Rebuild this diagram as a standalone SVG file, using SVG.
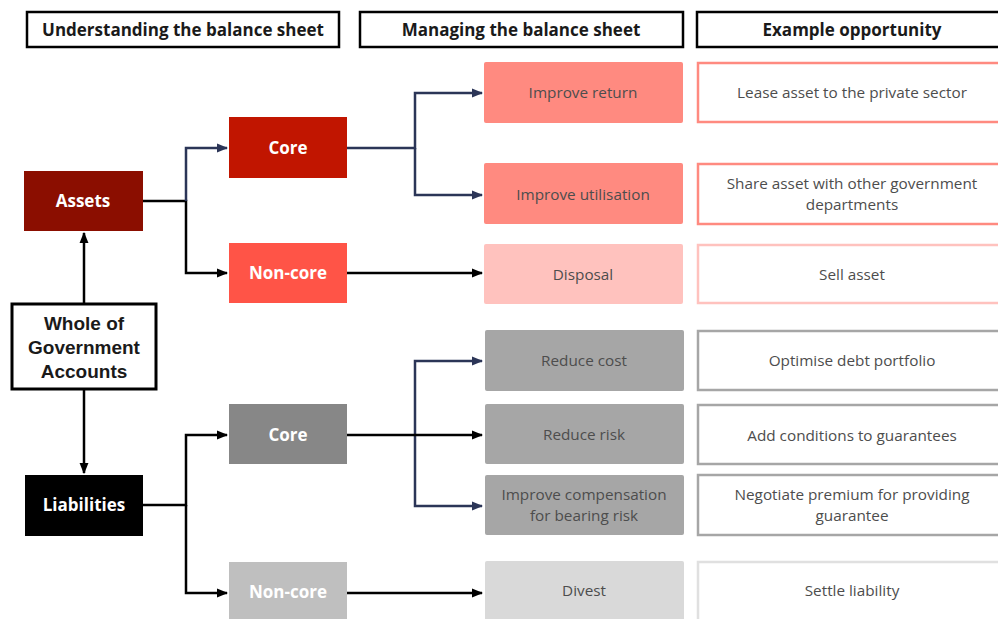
<svg xmlns="http://www.w3.org/2000/svg" width="998" height="619" viewBox="0 0 998 619">
<defs>
<marker id="ab" viewBox="0 0 10 10" refX="9" refY="5" markerWidth="4.5" markerHeight="4.5" orient="auto" markerUnits="strokeWidth"><path d="M0,1 L10,5 L0,9 z" fill="#000"/></marker>
<marker id="an" viewBox="0 0 10 10" refX="9" refY="5" markerWidth="4.5" markerHeight="4.5" orient="auto" markerUnits="strokeWidth"><path d="M0,1 L10,5 L0,9 z" fill="#2b3557"/></marker>
<style>
.hdr{fill:#fff;stroke:#000;stroke-width:2.5}
.ht{font-family:"Open Sans","Liberation Sans",sans-serif;font-weight:bold;font-size:17px;fill:#1a1a1a;text-anchor:middle}
.lt{font-family:"Open Sans","Liberation Sans",sans-serif;font-weight:bold;font-size:17px;fill:#fff;text-anchor:middle}
.bt{font-family:"Open Sans","Liberation Sans",sans-serif;font-size:15.3px;fill:#4d4d4d;text-anchor:middle}
.wt{font-family:"Liberation Sans",Arial,sans-serif;font-weight:bold;font-size:19px;fill:#1a1a1a;text-anchor:middle}
.kb{fill:none;stroke:#000;stroke-width:2.5}
.kn{fill:none;stroke:#2b3557;stroke-width:2.5}
</style>
</defs>
<rect width="998" height="619" fill="#fff"/>
<g id="h1"><rect class="hdr" x="27" y="12" width="312" height="35"/><text class="ht" x="183" y="36">Understanding the balance sheet</text></g>
<g id="h2"><rect class="hdr" x="360" y="12" width="323" height="35"/><text class="ht" x="521" y="36">Managing the balance sheet</text></g>
<g id="h3"><rect class="hdr" x="697" y="12" width="310" height="35"/><text class="ht" x="852" y="36">Example opportunity</text></g>

<g id="connectors">
<path class="kb" d="M84,303 V233" marker-end="url(#ab)"/>
<path class="kb" d="M84,390 V473" marker-end="url(#ab)"/>
<path class="kb" d="M143,201 H186 V273 H227" marker-end="url(#ab)"/>
<path class="kn" d="M186,201 V148 H227" marker-end="url(#an)"/>
<path class="kn" d="M347,148 H415 V93 H482" marker-end="url(#an)"/>
<path class="kn" d="M415,148 V195 H482" marker-end="url(#an)"/>
<path class="kb" d="M347,273 H482" marker-end="url(#ab)"/>
<path class="kb" d="M143,505 H186 V435 H227" marker-end="url(#ab)"/>
<path class="kb" d="M186,505 V593 H227" marker-end="url(#ab)"/>
<path class="kn" d="M415,435 V361 H482" marker-end="url(#an)"/>
<path class="kn" d="M415,435 V506 H482" marker-end="url(#an)"/>
<path class="kb" d="M347,435 H482" marker-end="url(#ab)"/>
<path class="kb" d="M347,593 H482" marker-end="url(#ab)"/>
</g>

<g id="wog"><rect x="12" y="304" width="144" height="85" fill="#fff" stroke="#000" stroke-width="3"/><text class="wt" x="84" y="330">Whole of</text><text class="wt" x="84" y="354">Government</text><text class="wt" x="84" y="378">Accounts</text></g>
<g id="assets"><rect x="24" y="171" width="119" height="60" fill="#8b0e00"/><text class="lt" x="83" y="207">Assets</text></g>
<g id="liabilities"><rect x="25" y="475" width="118" height="61" fill="#000"/><text class="lt" x="84" y="511">Liabilities</text></g>
<g id="acore"><rect x="229" y="117" width="118" height="61" fill="#c11500"/><text class="lt" x="288" y="154">Core</text></g>
<g id="anoncore"><rect x="229" y="243" width="118" height="60" fill="#ff5447"/><text class="lt" x="288" y="279">Non-core</text></g>
<g id="lcore"><rect x="229" y="404" width="118" height="60" fill="#878787"/><text class="lt" x="288" y="441">Core</text></g>
<g id="lnoncore"><rect x="229" y="562" width="118" height="60" fill="#bfbfbf"/><text class="lt" x="288" y="598">Non-core</text></g>

<g id="m1"><rect x="484" y="62" width="199" height="61" rx="2" fill="#ff8a80"/><text class="bt" x="583" y="98">Improve return</text></g>
<g id="m2"><rect x="484" y="163" width="199" height="61" rx="2" fill="#ff8a80"/><text class="bt" x="583" y="200">Improve utilisation</text></g>
<g id="m3"><rect x="484" y="244" width="199" height="60" rx="2" fill="#ffc2be"/><text class="bt" x="583" y="280">Disposal</text></g>
<g id="m4"><rect x="485" y="330" width="199" height="61" rx="2" fill="#a6a6a6"/><text class="bt" x="584" y="366">Reduce cost</text></g>
<g id="m5"><rect x="485" y="404" width="199" height="60" rx="2" fill="#a6a6a6"/><text class="bt" x="584" y="440">Reduce risk</text></g>
<g id="m6"><rect x="485" y="475" width="199" height="60" rx="2" fill="#a6a6a6"/><text class="bt" x="584" y="500">Improve compensation</text><text class="bt" x="584" y="521">for bearing risk</text></g>
<g id="m7"><rect x="485" y="561" width="199" height="62" rx="2" fill="#d9d9d9"/><text class="bt" x="584" y="596">Divest</text></g>

<g id="e1"><rect x="698" y="63" width="310" height="59" fill="#fff" stroke="#ff8a80" stroke-width="2.5"/><text class="bt" x="852" y="98">Lease asset to the private sector</text></g>
<g id="e2"><rect x="698" y="164" width="310" height="60" fill="#fff" stroke="#ff8a80" stroke-width="2.5"/><text class="bt" x="852" y="189">Share asset with other government</text><text class="bt" x="852" y="210">departments</text></g>
<g id="e3"><rect x="698" y="245" width="310" height="58" fill="#fff" stroke="#ffc2be" stroke-width="2.5"/><text class="bt" x="852" y="280">Sell asset</text></g>
<g id="e4"><rect x="698" y="331" width="310" height="59" fill="#fff" stroke="#a6a6a6" stroke-width="2.5"/><text class="bt" x="852" y="366">Optimise debt portfolio</text></g>
<g id="e5"><rect x="698" y="405" width="310" height="59" fill="#fff" stroke="#a6a6a6" stroke-width="2.5"/><text class="bt" x="852" y="441">Add conditions to guarantees</text></g>
<g id="e6"><rect x="698" y="475" width="310" height="60" fill="#fff" stroke="#a6a6a6" stroke-width="2.5"/><text class="bt" x="852" y="500">Negotiate premium for providing</text><text class="bt" x="852" y="521">guarantee</text></g>
<g id="e7"><rect x="698" y="562" width="310" height="62" fill="#fff" stroke="#e0e0e0" stroke-width="2.5"/><text class="bt" x="852" y="596">Settle liability</text></g>
</svg>
